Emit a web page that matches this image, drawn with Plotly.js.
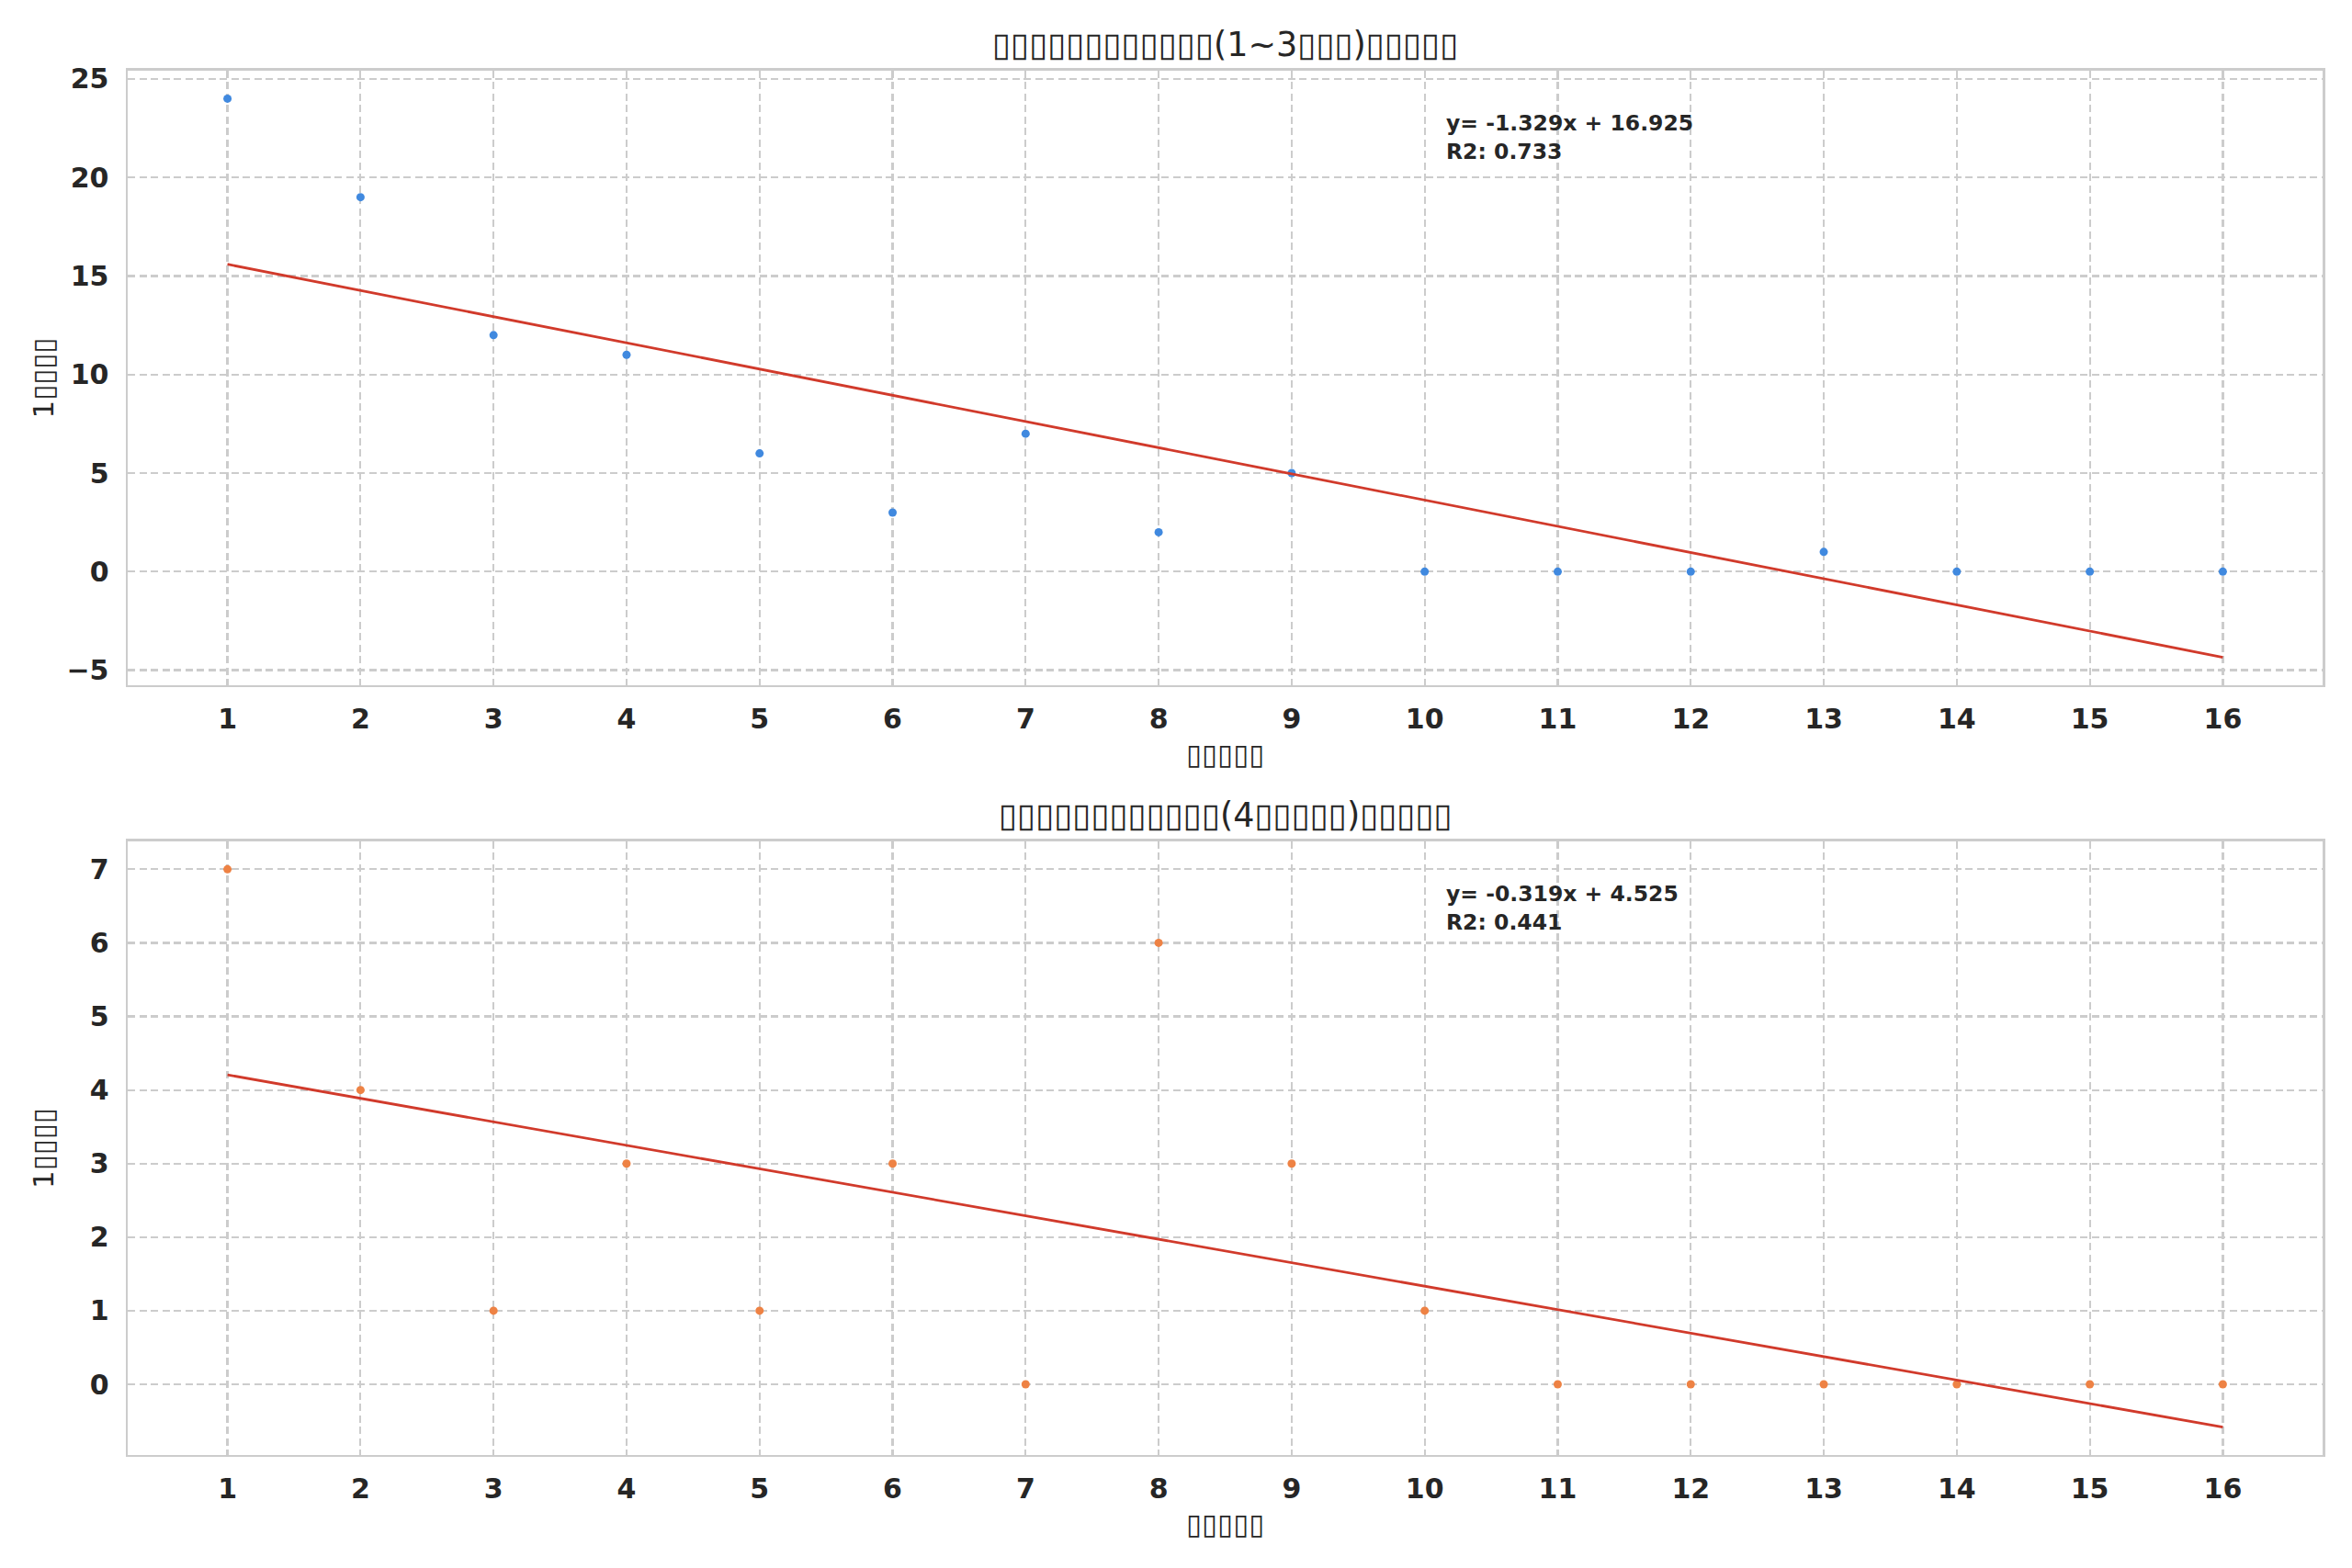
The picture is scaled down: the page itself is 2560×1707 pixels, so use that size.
<!DOCTYPE html>
<html>
<head>
<meta charset="utf-8">
<script src="https://cdn.plot.ly/plotly-3.0.1.min.js"></script>
<style>
  html, body { margin: 0; padding: 0; background: #fff; }
  #chart { width: 2560px; height: 1707px; }
</style>
</head>
<body>
<div id="chart"></div>
<script>
/* global Plotly */
// weeks on the x axis, shared by both panels
const weeks = [1, 2, 3, 4, 5, 6, 7, 8, 9, 10, 11, 12, 13, 14, 15, 16];
const countsTop = [24, 19, 12, 11, 6, 3, 7, 2, 5, 0, 0, 0, 1, 0, 0, 0];
const countsBottom = [7, 4, 1, 3, 1, 3, 0, 6, 3, 1, 0, 0, 0, 0, 0, 0];

const titleTop = '▯▯▯▯▯▯▯▯▯▯▯▯(1~3▯▯▯)▯▯▯▯▯';
const titleBottom = '▯▯▯▯▯▯▯▯▯▯▯▯(4▯▯▯▯▯)▯▯▯▯▯';
const xLabel = '▯▯▯▯▯';
const yLabel = '1▯▯▯▯';

(function () {
  const FONT = 'DejaVu Sans, Verdana, sans-serif';
  const TEXT = '#262626';
  const GRID = '#cccccc';

  // least squares fit, the same way the original chart got its line
  const fit = function (xs, ys) {
    const n = xs.length;
    const mx = xs.reduce((a, b) => a + b, 0) / n;
    const my = ys.reduce((a, b) => a + b, 0) / n;
    let sxy = 0, sxx = 0, syy = 0;
    for (let i = 0; i < n; i++) {
      sxy += (xs[i] - mx) * (ys[i] - my);
      sxx += (xs[i] - mx) * (xs[i] - mx);
      syy += (ys[i] - my) * (ys[i] - my);
    }
    const slope = sxy / sxx;
    const intercept = my - slope * mx;
    return { slope: slope, intercept: intercept, r2: (sxy * sxy) / (sxx * syy) };
  };

  const padRange = function (vals) {
    const lo = Math.min.apply(null, vals);
    const hi = Math.max.apply(null, vals);
    const pad = (hi - lo) * 0.05;
    return [lo - pad, hi + pad];
  };

  const panels = [
    { ys: countsTop, color: '#4089df', title: titleTop, dtick: 5, yDomain: [0.563, 0.9549] },
    { ys: countsBottom, color: '#ee8244', title: titleBottom, dtick: 1, yDomain: [0.0721, 0.4634] }
  ];

  const xDomain = [0.0543, 0.9875];
  const traces = [];
  const annotations = [];
  const layout = {
    width: 2560,
    height: 1707,
    autosize: false,
    margin: { l: 0, r: 0, t: 0, b: 0 },
    paper_bgcolor: '#ffffff',
    plot_bgcolor: '#ffffff',
    showlegend: false,
    font: { family: FONT, color: TEXT }
  };

  panels.forEach(function (p, i) {
    const suffix = i === 0 ? '' : '2';
    const f = fit(weeks, p.ys);
    const lineX = [weeks[0], weeks[weeks.length - 1]];
    const lineY = lineX.map(x => f.slope * x + f.intercept);

    traces.push({
      x: weeks,
      y: p.ys,
      type: 'scatter',
      mode: 'markers',
      marker: { color: p.color, size: 9 },
      xaxis: 'x' + suffix,
      yaxis: 'y' + suffix
    });
    traces.push({
      x: lineX,
      y: lineY,
      type: 'scatter',
      mode: 'lines',
      line: { color: '#d13a2b', width: 2.8 },
      xaxis: 'x' + suffix,
      yaxis: 'y' + suffix
    });

    const axisCommon = {
      showline: true,
      mirror: true,
      linecolor: GRID,
      linewidth: 2.5,
      showgrid: true,
      gridcolor: GRID,
      gridwidth: 2.2,
      griddash: '8px,4.5px',
      zeroline: false,
      ticks: '',
      tickfont: { family: FONT, size: 30, color: TEXT, weight: 'bold' }
    };

    layout['xaxis' + suffix] = Object.assign({}, axisCommon, {
      domain: xDomain,
      anchor: 'y' + suffix,
      range: padRange(weeks),
      tickmode: 'array',
      tickvals: weeks,
      ticklabelstandoff: 9
    });
    layout['yaxis' + suffix] = Object.assign({}, axisCommon, {
      domain: p.yDomain,
      anchor: 'x' + suffix,
      range: padRange(p.ys.concat(lineY)),
      dtick: p.dtick,
      tick0: 0,
      ticklabelstandoff: 12
    });

    const top = p.yDomain[1];
    const bottom = p.yDomain[0];
    const midX = (xDomain[0] + xDomain[1]) / 2;

    // panel title
    annotations.push({
      text: p.title,
      xref: 'paper', yref: 'paper',
      x: midX, y: top + 0.0164,
      xanchor: 'center', yanchor: 'middle',
      showarrow: false,
      font: { family: FONT, size: 36.5, color: TEXT }
    });
    // x axis title
    annotations.push({
      text: xLabel,
      xref: 'paper', yref: 'paper',
      x: midX, y: bottom - 0.0442,
      xanchor: 'center', yanchor: 'middle',
      showarrow: false,
      font: { family: FONT, size: 31, color: TEXT }
    });
    // y axis title
    annotations.push({
      text: yLabel,
      xref: 'paper', yref: 'paper',
      x: 0.0184, y: (top + bottom) / 2,
      xanchor: 'center', yanchor: 'middle',
      textangle: -90,
      showarrow: false,
      font: { family: FONT, size: 31, color: TEXT }
    });
    // fit equation
    annotations.push({
      text: '<b>y= ' + f.slope.toFixed(3) + 'x + ' + f.intercept.toFixed(3) +
        '<br>R2: ' + f.r2.toFixed(3) + '</b>',
      xref: 'paper', yref: 'paper',
      x: xDomain[0] + 0.6 * (xDomain[1] - xDomain[0]),
      y: top - 0.024,
      xanchor: 'left', yanchor: 'top',
      align: 'left',
      showarrow: false,
      font: { family: FONT, size: 23.5, color: TEXT }
    });
  });

  layout.annotations = annotations;

  window.addEventListener('DOMContentLoaded', function () {
    Plotly.newPlot('chart', traces, layout, { staticPlot: true, displayModeBar: false });
  });
})();
</script>
</body>
</html>
